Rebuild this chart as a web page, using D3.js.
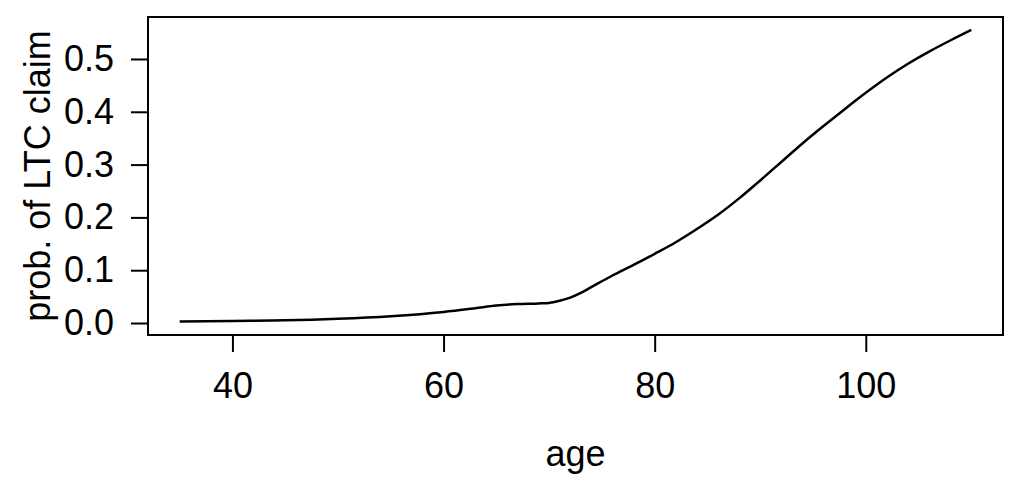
<!DOCTYPE html>
<html>
<head>
<meta charset="utf-8">
<script src="https://cdn.jsdelivr.net/npm/d3@7"></script>
<style>
  body { margin: 0; background: #fff; }
  text { font-family: "Liberation Sans", Arial, sans-serif; fill: #000; }
</style>
</head>
<body>
<svg id="chart"></svg>
<script>
  // ages and claim probabilities
  var ages = [35, 40, 45, 50, 55, 60, 63, 65, 67, 69, 70, 71, 72, 73, 74, 76, 78, 80,
              82, 84, 86, 88, 90, 92, 94, 96, 98, 100, 102, 104, 106, 108, 110];
  var probs = [0.003, 0.004, 0.005, 0.008, 0.013, 0.021, 0.028, 0.033, 0.036, 0.037, 0.038,
               0.042, 0.048, 0.057, 0.068, 0.090, 0.110, 0.131, 0.153, 0.178, 0.205, 0.236,
               0.270, 0.305, 0.340, 0.373, 0.405, 0.436, 0.465, 0.491, 0.514, 0.535, 0.555];
  var xTicks = [40, 60, 80, 100];
  var yTicks = [0.0, 0.1, 0.2, 0.3, 0.4, 0.5];

  var width = 1024, height = 485;
  var plotLeft = 148, plotRight = 1003, plotTop = 17, plotBottom = 335;

  var svg = d3.select('#chart')
    .attr('width', width)
    .attr('height', height);

  // R style: 4% padding around the data range
  var xPad = (d3.max(ages) - d3.min(ages)) * 0.04;
  var x = d3.scaleLinear()
    .domain([d3.min(ages) - xPad, d3.max(ages) + xPad])
    .range([plotLeft, plotRight]);

  var y = d3.scaleLinear()
    .domain([-0.0227, 0.5795])
    .range([plotBottom, plotTop]);

  var line = d3.line()
    .x(function (d, i) { return x(ages[i]); })
    .y(function (d) { return y(d); })
    .curve(d3.curveMonotoneX);

  svg.append('path')
    .datum(probs)
    .attr('d', line)
    .attr('fill', 'none')
    .attr('stroke', '#000')
    .attr('stroke-width', 2.5);

  svg.append('rect')
    .attr('x', plotLeft)
    .attr('y', plotTop)
    .attr('width', plotRight - plotLeft)
    .attr('height', plotBottom - plotTop)
    .attr('fill', 'none')
    .attr('stroke', '#000')
    .attr('stroke-width', 2);

  var xAxis = svg.append('g')
    .attr('transform', 'translate(0,' + plotBottom + ')')
    .call(d3.axisBottom(x).tickValues(xTicks).tickSize(17).tickPadding(20)
      .tickFormat(d3.format('d')));
  xAxis.select('.domain').remove();
  xAxis.selectAll('line').attr('stroke-width', 2);
  xAxis.selectAll('text').style('font-size', '36px').attr('font-family', null);

  var yAxis = svg.append('g')
    .attr('transform', 'translate(' + plotLeft + ',0)')
    .call(d3.axisLeft(y).tickValues(yTicks).tickSize(17).tickPadding(17)
      .tickFormat(d3.format('.1f')));
  yAxis.select('.domain').remove();
  yAxis.selectAll('line').attr('stroke-width', 2);
  yAxis.selectAll('text').style('font-size', '36px').attr('font-family', null);

  svg.append('text')
    .attr('x', (plotLeft + plotRight) / 2)
    .attr('y', 466)
    .attr('text-anchor', 'middle')
    .style('font-size', '36px')
    .text('age');

  svg.append('text')
    .attr('transform', 'translate(50,' + (plotTop + plotBottom) / 2 + ')rotate(-90)')
    .attr('text-anchor', 'middle')
    .style('font-size', '36px')
    .text('prob. of LTC claim');
</script>
</body>
</html>
